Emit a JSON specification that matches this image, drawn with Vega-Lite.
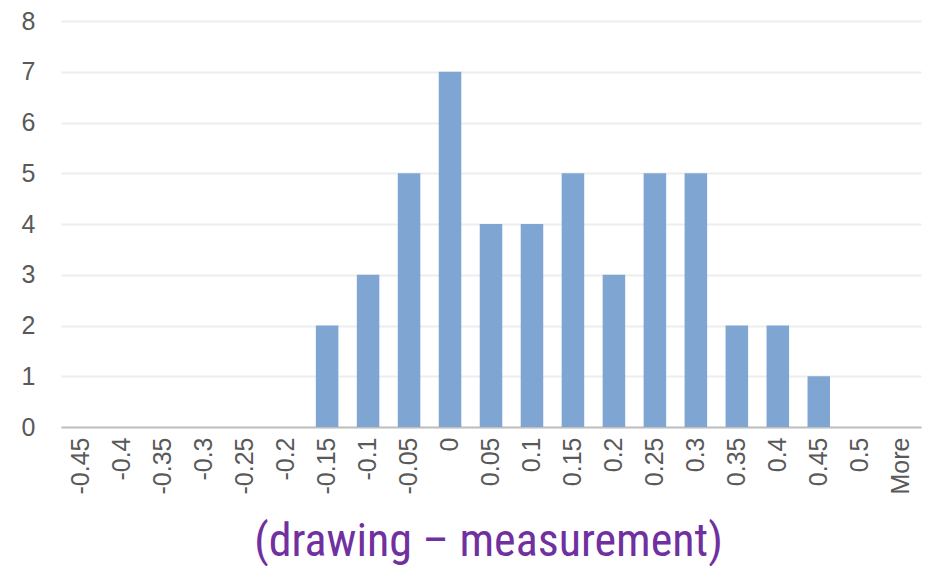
{
  "$schema": "https://vega.github.io/schema/vega-lite/v6.json",
  "width": 860,
  "height": 406,
  "autosize": {"type": "none"},
  "padding": {"left": 61, "top": 21, "right": 6, "bottom": 139},
  "background": "white",
  "data": {"values": [
    {"bin": "-0.45", "count": 0},
    {"bin": "-0.4", "count": 0},
    {"bin": "-0.35", "count": 0},
    {"bin": "-0.3", "count": 0},
    {"bin": "-0.25", "count": 0},
    {"bin": "-0.2", "count": 0},
    {"bin": "-0.15", "count": 2},
    {"bin": "-0.1", "count": 3},
    {"bin": "-0.05", "count": 5},
    {"bin": "0", "count": 7},
    {"bin": "0.05", "count": 4},
    {"bin": "0.1", "count": 4},
    {"bin": "0.15", "count": 5},
    {"bin": "0.2", "count": 3},
    {"bin": "0.25", "count": 5},
    {"bin": "0.3", "count": 5},
    {"bin": "0.35", "count": 2},
    {"bin": "0.4", "count": 2},
    {"bin": "0.45", "count": 1},
    {"bin": "0.5", "count": 0},
    {"bin": "More", "count": 0}
  ]},
  "mark": {"type": "bar", "color": "#7FA6D2"},
  "encoding": {
    "x": {
      "field": "bin", "type": "nominal", "sort": null,
      "scale": {"paddingInner": 0.45, "paddingOuter": 0.22},
      "axis": {
        "title": "(drawing – measurement)",
        "titleFont": "Liberation Sans Narrow, Arial Narrow, Roboto Condensed, DejaVu Sans Condensed, Liberation Sans, sans-serif",
        "titleFontSize": 46,
        "titleFontWeight": "normal",
        "titleColor": "#7030A0",
        "titleBaseline": "alphabetic",
        "titleY": 128,
        "titleX": 427,
        "labelAngle": -90,
        "labelFont": "Liberation Sans",
        "labelFontSize": 25,
        "labelColor": "#595959",
        "labelPadding": 10,
        "labelOverlap": false,
        "ticks": false,
        "domainColor": "#BFBFBF",
        "domainWidth": 2
      }
    },
    "y": {
      "field": "count", "type": "quantitative",
      "scale": {"domain": [0, 8], "nice": false},
      "axis": {
        "title": null,
        "values": [0,1,2,3,4,5,6,7,8],
        "labelOverlap": false,
        "labelFont": "Liberation Sans",
        "labelFontSize": 25,
        "labelColor": "#595959",
        "labelPadding": 26,
        "ticks": false,
        "domain": false,
        "gridColor": "#EDEDED",
        "gridWidth": 2
      }
    }
  },
  "config": {"view": {"stroke": null}}
}
